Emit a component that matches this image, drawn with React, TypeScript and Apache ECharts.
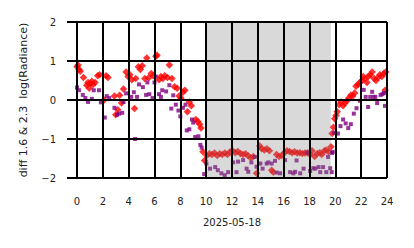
import React, { useEffect, useRef } from "react";
import * as echarts from "echarts";

const xTicks = [0, 2, 4, 6, 8, 10, 12, 14, 16, 18, 20, 22, 24];
const yTicks = [-2, -1, 0, 1, 2];
const dateLabel = "2025-05-18";
const yName = "diff 1.6 & 2.3  log(Radiance)";
const nightBand = [10, 19.65];

const redLeft = [
  [0.0, 0.85], [0.08, 0.9], [0.15, 0.78], [0.25, 0.74], [0.5, 0.58], [0.75, 0.38], [0.85, 0.45], [0.95, 0.3],
  [1.05, 0.42], [1.15, 0.48], [1.25, 0.4], [1.4, 0.45], [1.6, 0.62], [1.75, 0.65], [2.1, 0.0], [2.25, 0.62],
  [2.4, 0.58], [2.9, 0.1], [3.0, -0.38], [3.15, -0.25], [3.3, 0.12], [3.45, -0.08], [3.6, 0.28], [3.8, 0.72],
  [3.95, 0.6], [4.1, 0.65], [4.25, 0.52], [4.45, -0.22], [4.55, 0.55], [4.75, 0.85], [4.9, 0.78], [5.05, 0.88],
  [5.25, 0.55], [5.4, 1.08], [5.55, 0.57], [5.75, 0.68], [5.9, 0.62], [6.1, 1.12], [6.2, 1.15], [6.35, 0.52],
  [6.5, 0.6], [6.65, 0.55], [6.8, 0.62], [7.0, 0.58], [7.15, 0.9], [7.35, 0.55], [7.55, 0.34], [7.75, 0.3],
  [7.9, 0.1], [8.05, 0.05], [8.2, 0.2], [8.35, 0.25], [8.55, -0.3], [8.7, -0.05], [8.85, -0.15], [9.2, -0.5],
  [9.35, -0.55], [9.5, -0.62], [9.6, -0.72], [9.75, -1.33], [9.88, -1.55],
];
const redNight = [
  [10.05, -1.42], [10.25, -1.38], [10.45, -1.4], [10.65, -1.36], [10.85, -1.42], [11.05, -1.38], [11.25, -1.4],
  [11.45, -1.36], [11.65, -1.4], [11.85, -1.33], [12.05, -1.3], [12.25, -1.35], [12.45, -1.32], [12.65, -1.37],
  [12.85, -1.4], [13.05, -1.38], [13.25, -1.43], [13.45, -1.48], [13.65, -1.45], [13.9, -1.88], [14.15, -1.18],
  [14.3, -1.25], [14.5, -1.28], [14.7, -1.25], [14.9, -1.3], [15.07, -1.8], [15.2, -1.85], [15.45, -1.4],
  [15.65, -1.45], [15.85, -1.42], [16.05, -1.35], [16.25, -1.3], [16.45, -1.32], [16.65, -1.35], [16.85, -1.33],
  [17.05, -1.36], [17.25, -1.35], [17.45, -1.37], [17.65, -1.36], [17.85, -1.35], [18.05, -1.4], [18.2, -1.3],
  [18.4, -1.45], [18.6, -1.37], [18.8, -1.35], [18.95, -1.4], [19.15, -1.3], [19.3, -1.28], [19.48, -1.33],
  [19.66, -1.2],
];
const redRight = [
  [19.75, -0.86], [19.85, -0.7], [19.95, -0.48], [20.05, -0.4], [20.15, -0.3], [20.3, -0.12], [20.45, -0.05],
  [20.6, -0.15], [20.75, -0.08], [20.9, -0.02], [21.05, 0.05], [21.2, 0.12], [21.35, 0.1], [21.5, 0.18],
  [21.6, 0.35], [21.75, 0.4], [21.9, 0.45], [22.05, 0.5], [22.15, 0.6], [22.3, 0.55], [22.45, 0.45], [22.55, 0.6],
  [22.7, 0.65], [22.85, 0.72], [23.0, 0.55], [23.15, 0.5], [23.3, 0.58], [23.45, 0.65], [23.6, 0.6], [23.75, 0.68],
  [23.85, 0.25], [23.9, 0.72],
];

const purpleLeft = [
  [0.0, 0.32], [0.15, 0.25], [0.45, 0.13], [0.65, 0.05], [0.85, -0.05], [1.15, 0.03], [1.3, 0.25], [1.7, 0.25],
  [1.85, -0.06], [2.15, -0.45], [2.3, 0.1], [2.5, 0.05], [2.9, -0.2], [3.1, -0.38], [3.25, -0.35], [3.5, -0.33],
  [3.6, -0.05], [3.8, 0.17], [4.2, 0.08], [4.4, 0.2], [4.5, -1.0], [4.65, 0.08], [4.8, 0.4], [5.1, 0.33],
  [5.35, 0.13], [5.45, 0.45], [5.6, 0.15], [5.85, 0.05], [6.0, 0.45], [6.1, 0.6], [6.35, 0.15], [6.5, 0.08],
  [6.6, 0.25], [6.9, 0.22], [7.15, 0.38], [7.3, -0.22], [7.45, 0.12], [7.65, -0.12], [7.85, -0.27], [8.0, -0.42],
  [8.2, -0.2], [8.4, -0.12], [8.5, -0.78], [8.7, -0.75], [8.9, -0.5], [9.0, -0.58], [9.15, -0.95], [9.4, -0.93],
  [9.55, -1.15], [9.65, -1.22], [9.85, -1.9],
];
const purpleNight = [
  [10.02, -1.63], [10.3, -1.76], [10.7, -1.72], [10.9, -1.8], [11.18, -1.88], [11.44, -1.93], [11.7, -1.85],
  [12.09, -1.6], [12.35, -1.85], [12.47, -1.58], [12.86, -1.54], [13.13, -1.76], [13.26, -1.84], [13.5, -1.6],
  [13.77, -1.46], [13.9, -1.71], [14.2, -1.63], [14.37, -1.76], [14.68, -1.63], [14.81, -1.6], [15.07, -1.63],
  [15.33, -1.56], [15.46, -1.86], [15.72, -1.88], [16.11, -1.54], [16.5, -1.85], [16.75, -1.88], [16.89, -1.84],
  [17.0, -1.55], [17.28, -1.88], [17.54, -1.76], [17.8, -1.35], [18.05, -1.82], [18.3, -1.75], [18.44, -1.76],
  [18.7, -1.72], [18.83, -1.85], [19.05, -1.72], [19.3, -1.85], [19.43, -1.46], [19.6, -1.75], [19.72, -1.85],
  [19.74, -1.36],
];
const purpleRight = [
  [19.8, -1.33], [19.92, -0.84], [20.2, -0.86], [20.4, -0.67], [20.6, -0.5], [20.8, -0.6], [21.0, -0.72],
  [21.2, -0.62], [21.43, -0.35], [21.64, -0.21], [21.9, -0.02], [22.2, 0.26], [22.35, 0.08], [22.54, -0.18],
  [22.7, 0.08], [22.85, 0.21], [22.95, 0.08], [23.1, 0.08], [23.24, -0.08], [23.5, 0.13], [23.65, 0.15],
  [23.76, 0.18], [23.84, -0.15],
];

const FONT = "DejaVu Sans";
const minus = (v: number) => String(v).replace("-", "\u2212");

export default function App() {
  const ref = useRef<HTMLDivElement>(null);
  useEffect(() => {
    if (!ref.current) return;
    const chart = echarts.init(ref.current, null, { renderer: "svg" });
    const axisCommon = {
      type: "value" as const,
      z: 10,
      axisLine: { show: false },
      axisTick: { show: true, lineStyle: { color: "#000", width: 2 } },
      splitLine: { show: true, lineStyle: { color: "#000", width: 2 } },
      axisLabel: { color: "#222", fontSize: 10, fontFamily: FONT, formatter: minus },
    };
    chart.setOption({
      animation: false,
      backgroundColor: "#fff",
      grid: { left: 77, right: 27, top: 22, bottom: 70 },
      xAxis: {
        ...axisCommon,
        min: xTicks[0],
        max: xTicks[xTicks.length - 1],
        interval: 2,
        axisTick: { ...axisCommon.axisTick, length: 9 },
        axisLabel: { ...axisCommon.axisLabel, margin: 18 },
        name: dateLabel,
        nameLocation: "middle",
        nameGap: 39,
        nameTextStyle: { color: "#222", fontSize: 10, fontFamily: FONT },
      },
      yAxis: {
        ...axisCommon,
        min: yTicks[0],
        max: yTicks[yTicks.length - 1],
        interval: 1,
        axisTick: { ...axisCommon.axisTick, length: 10 },
        axisLabel: { ...axisCommon.axisLabel, margin: 21 },
        name: yName,
        nameLocation: "middle",
        nameGap: 48,
        nameTextStyle: { color: "#222", fontSize: 11, fontFamily: FONT },
      },
      series: [
        {
          type: "scatter",
          name: "red",
          symbol: "diamond",
          symbolSize: 7.5,
          itemStyle: { color: "#ff0000" },
          data: [...redLeft, ...redNight, ...redRight],
          z: 2,
        },
        {
          type: "scatter",
          name: "purple",
          symbol: "rect",
          symbolSize: 4,
          itemStyle: { color: "#800080" },
          data: [...purpleLeft, ...purpleNight, ...purpleRight],
          z: 3,
          markArea: {
            silent: true,
            z: 5,
            itemStyle: { color: "rgba(128,128,128,0.3)" },
            data: [[{ xAxis: nightBand[0], yAxis: yTicks[0] }, { xAxis: nightBand[1], yAxis: yTicks[yTicks.length - 1] }]],
          },
        },
      ],
    });
    return () => chart.dispose();
  }, []);
  return <div ref={ref} style={{ width: 414, height: 248, position: "absolute", left: 0, top: 0 }} />;
}
